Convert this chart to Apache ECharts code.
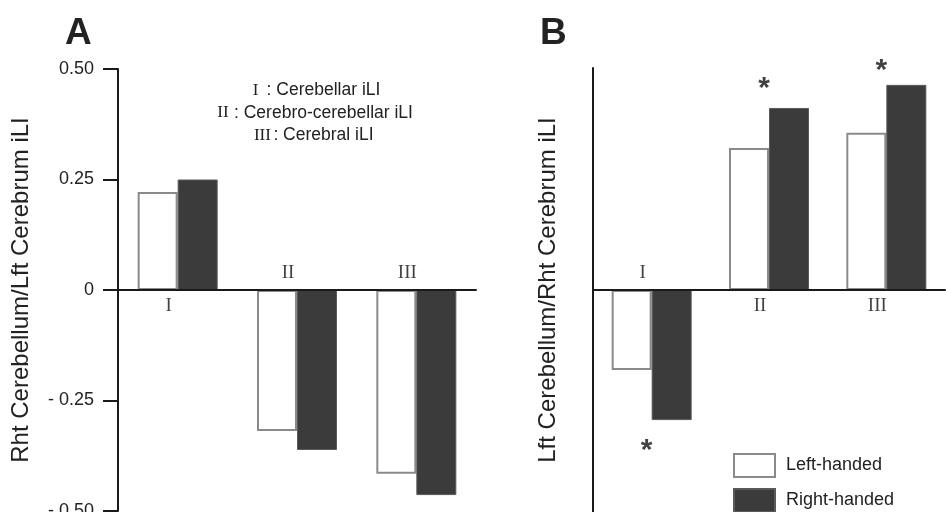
<!DOCTYPE html>
<html>
<head>
<meta charset="utf-8">
<script src="https://cdn.jsdelivr.net/npm/echarts@6/dist/echarts.min.js"></script>
<style>
  html, body { margin: 0; padding: 0; background: #fff; }
  #chart { width: 946px; height: 512px; }
</style>
</head>
<body>
<div id="chart"></div>
<script>
// categories (roman numerals) and what they stand for
const categories = ['I', 'II', 'III'];
const measureNames = ['Cerebellar iLI', 'Cerebro-cerebellar iLI', 'Cerebral iLI'];
const groupNames = ['Left-handed', 'Right-handed'];

// panel A: Rht Cerebellum / Lft Cerebrum iLI
const leftA = [0.222, -0.319, -0.416];
const rightA = [0.25, -0.362, -0.464];

// panel B: Lft Cerebellum / Rht Cerebrum iLI
const leftB = [-0.18, 0.32, 0.354];
const rightB = [-0.293, 0.41, 0.462];

// significance markers in panel B (y value of each asterisk)
const sigB = [-0.355, 0.46, 0.5];

const yTicks = [-0.5, -0.25, 0, 0.25, 0.5];
const yTickLabels = ['- 0.50', '- 0.25', '0', '0.25', '0.50'];

const SANS = 'Liberation Sans, Arial, sans-serif';
const SERIF = 'Liberation Serif, Times New Roman, serif';
const INK = '#222';

const whiteBar = { color: '#fff', borderColor: '#8a8a8a', borderWidth: 2 };
const darkBar = { color: '#3b3b3b', borderColor: '#5a5a5a', borderWidth: 1 };

function barSeries(name, data, idx, style) {
    return {
        name: name,
        type: 'bar',
        xAxisIndex: idx,
        yAxisIndex: idx,
        data: data,
        barWidth: 40,
        barGap: '0%',
        itemStyle: style,
        emphasis: { disabled: true },
        silent: true
    };
}

// roman numeral labels sit on the opposite side of the axis from the bars
function catLabelSeries(idx, left, right) {
    return {
        type: 'scatter',
        xAxisIndex: idx,
        yAxisIndex: idx,
        symbolSize: 0,
        silent: true,
        data: categories.map((c, i) => ({
            value: [i, 0],
            label: { position: (left[i] + right[i]) > 0 ? 'bottom' : 'top' }
        })),
        label: {
            show: true,
            formatter: p => categories[p.data.value[0]],
            fontFamily: SERIF,
            fontSize: 19,
            color: '#111',
            distance: 7,
            offset: [-9, 0]
        }
    };
}

const yAxisBase = {
    type: 'value',
    min: -0.5,
    max: 0.5,
    interval: 0.25,
    splitLine: { show: false },
    axisLine: { show: true, lineStyle: { color: '#1a1a1a', width: 2 } },
    nameLocation: 'middle',
    nameTextStyle: { fontFamily: SANS, fontSize: 24, color: INK }
};

const xAxisBase = {
    type: 'category',
    data: categories,
    z: 5,
    axisLine: { show: true, onZero: true, lineStyle: { color: '#1a1a1a', width: 2 } },
    axisTick: { show: false },
    axisLabel: { show: false },
    splitLine: { show: false }
};

const keyRows = categories.map((c, i) => '{r|' + c + '}{t|: ' + measureNames[i] + '}').join('\n');

function legendFor(name, top) {
    return {
        data: [name],
        orient: 'vertical',
        left: 733,
        top: top,
        itemWidth: 41,
        itemHeight: 23,
        icon: 'rect',
        selectedMode: false,
        padding: 0,
        textStyle: { fontFamily: SANS, fontSize: 18, color: INK, padding: [0, 0, 0, 6] }
    };
}

const chart = echarts.init(document.getElementById('chart'), null, { renderer: 'canvas' });

chart.setOption({
    animation: false,
    backgroundColor: '#fff',
    title: [
        { text: 'A', left: 60, top: 10, textStyle: { fontFamily: SANS, fontSize: 37, fontWeight: 'bold', color: INK } },
        { text: 'B', left: 535, top: 10, textStyle: { fontFamily: SANS, fontSize: 37, fontWeight: 'bold', color: INK } },
        {
            text: keyRows,
            left: 207,
            top: 74,
            textStyle: {
                fontWeight: 'normal',
                lineHeight: 22.5,
                rich: {
                    r: { fontFamily: SERIF, fontSize: 17, fontWeight: 'normal', color: INK, width: 22, align: 'center', lineHeight: 22.5 },
                    t: { fontFamily: SANS, fontSize: 17.5, fontWeight: 'normal', color: INK, lineHeight: 22.5 }
                }
            }
        }
    ],
    legend: [legendFor(groupNames[0], 453), legendFor(groupNames[1], 488)],
    grid: [
        { left: 118, top: 69, width: 358, height: 442, outerBoundsMode: 'none', containLabel: false },
        { left: 593, top: 68, width: 352, height: 444, outerBoundsMode: 'none', containLabel: false }
    ],
    xAxis: [
        Object.assign({}, xAxisBase, { gridIndex: 0 }),
        Object.assign({}, xAxisBase, { gridIndex: 1 })
    ],
    yAxis: [
        Object.assign({}, yAxisBase, {
            gridIndex: 0,
            name: 'Rht Cerebellum/Lft Cerebrum iLI',
            nameGap: 85,
            axisTick: { show: true, length: 15, lineStyle: { color: '#1a1a1a', width: 2 } },
            axisLabel: {
                show: true,
                margin: 24,
                fontFamily: SANS,
                fontSize: 18,
                color: INK,
                formatter: v => yTickLabels[yTicks.findIndex(t => Math.abs(t - v) < 1e-9)]
            }
        }),
        Object.assign({}, yAxisBase, {
            gridIndex: 1,
            name: 'Lft Cerebellum/Rht Cerebrum iLI',
            nameGap: 33,
            axisTick: { show: false },
            axisLabel: { show: false }
        })
    ],
    series: [
        barSeries(groupNames[0], leftA, 0, whiteBar),
        barSeries(groupNames[1], rightA, 0, darkBar),
        barSeries(groupNames[0], leftB, 1, whiteBar),
        barSeries(groupNames[1], rightB, 1, darkBar),
        catLabelSeries(0, leftA, rightA),
        catLabelSeries(1, leftB, rightB),
        {
            type: 'scatter',
            xAxisIndex: 1,
            yAxisIndex: 1,
            symbolSize: 0,
            silent: true,
            data: sigB.map((v, i) => [i, v]),
            label: {
                show: true,
                position: 'inside',
                formatter: '*',
                fontFamily: SANS,
                fontSize: 30,
                fontWeight: 'bold',
                color: '#111',
                offset: [-5, 3]
            }
        }
    ]
});
</script>
</body>
</html>
